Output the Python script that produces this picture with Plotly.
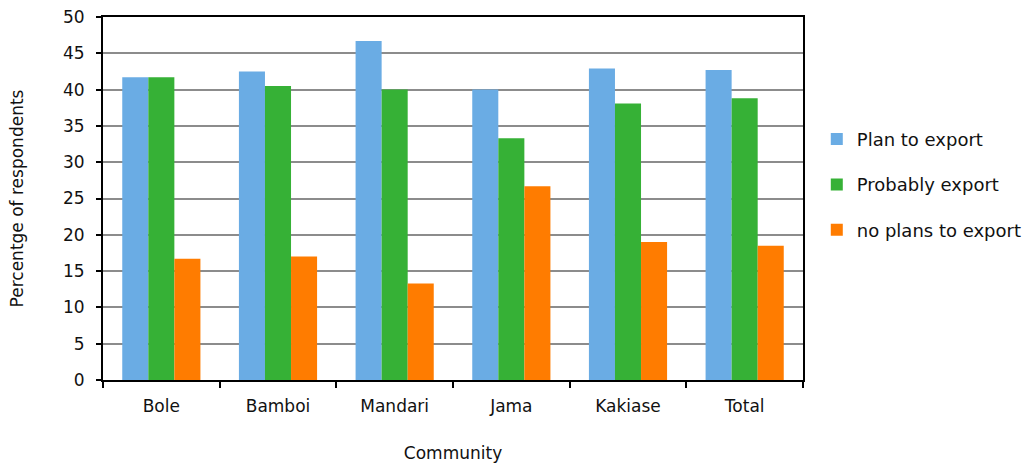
import plotly.graph_objects as go

communities = ["Bole", "Bamboi", "Mandari", "Jama", "Kakiase", "Total"]
plan_to_export = [41.7, 42.5, 46.7, 40.0, 42.9, 42.7]
probably_export = [41.7, 40.5, 40.0, 33.3, 38.1, 38.8]
no_plans = [16.7, 17.0, 13.3, 26.7, 19.0, 18.5]

series = [
    ("Plan to export", plan_to_export, "#6AACE4"),
    ("Probably export", probably_export, "#36B136"),
    ("no plans to export", no_plans, "#FF7C00"),
]

fig = go.Figure()
for i, (name, vals, col) in enumerate(series):
    fig.add_trace(go.Bar(
        x=communities, y=vals, name=name, marker_color=col,
        marker_line_width=0, legendgroup=f"g{i}",
    ))

font = "DejaVu Sans, Verdana, sans-serif"
fig.update_layout(
    width=1030, height=463,
    margin=dict(l=103, r=227, t=17, b=83),
    paper_bgcolor="white", plot_bgcolor="white",
    barmode="group", bargap=0.33, bargroupgap=0,
    font=dict(family=font, size=17, color="#111111"),
    showlegend=True,
    legend=dict(xref="container", yref="container",
                x=0.793, y=0.739, xanchor="left", yanchor="top",
                tracegroupgap=19, itemwidth=30,
                font=dict(size=18), bgcolor="rgba(0,0,0,0)"),
    xaxis=dict(
        automargin=False,
        showline=True, linecolor="black", linewidth=2, mirror=True,
        ticks="outside", ticklen=6, tickwidth=1.5, tickcolor="black",
        tickson="boundaries", ticklabelstandoff=10,
        tickfont=dict(size=17),
        title=dict(text="Community", standoff=34, font=dict(size=17)),
    ),
    yaxis=dict(
        automargin=False,
        range=[0, 50], dtick=5, tick0=0,
        showline=True, linecolor="black", linewidth=2, mirror=True,
        ticks="outside", ticklen=5, tickwidth=1.5, tickcolor="black",
        showgrid=True, gridcolor="#8C8C8C", gridwidth=2,
        zeroline=False, ticklabelstandoff=8,
        tickfont=dict(size=17),
        title=dict(text="Percentge of respondents", standoff=35, font=dict(size=17)),
    ),
)

fig.write_html("out.html")
